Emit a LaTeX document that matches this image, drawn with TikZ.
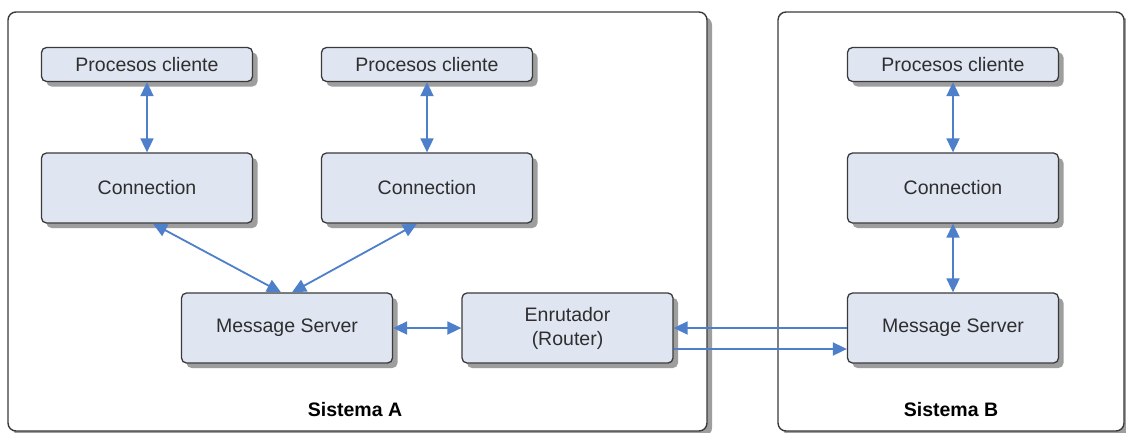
\documentclass[tikz,border=0pt]{standalone}
\usepackage{fontspec}
\setmainfont{Liberation Sans}
\usetikzlibrary{arrows.meta,shadows,calc}
\definecolor{boxfill}{HTML}{DFE6F2}
\definecolor{boxline}{HTML}{3A3A3A}
\definecolor{linkblue}{HTML}{4D7FCB}
\definecolor{txt}{HTML}{2E2E2E}
\tikzset{
  shade gray/.style={general shadow={fill=black!38, shadow xshift=5pt, shadow yshift=-5pt}},
  sysbox/.style={draw=boxline, line width=1.4pt, fill=white, rounded corners=8pt, shade gray},
  blockbox/.style={draw=boxline, line width=1.3pt, fill=boxfill, rounded corners=5pt,
    minimum width=211pt, minimum height=70pt, inner sep=0pt, align=center,
    text=txt, font=\fontsize{19.5}{24}\selectfont, shade gray},
  procbox/.style={blockbox, minimum height=34pt},
  link/.style={draw=linkblue, line width=1.8pt,
    {Triangle[length=14pt,width=13pt]}-{Triangle[length=14pt,width=13pt]}},
  onelink/.style={draw=linkblue, line width=1.8pt, -{Triangle[length=14pt,width=13pt]}},
  syslabel/.style={font=\bfseries\fontsize{19.5}{24}\selectfont, text=black}
}
\begin{document}
\begin{tikzpicture}[x=1pt,y=-1pt]
\useasboundingbox (0,0) rectangle (1126,432);
% system frames
\draw[sysbox] (8,12) rectangle (707,431);
\draw[sysbox] (778,12) rectangle (1124,431);
\node[syslabel] (sa) at (355,410) {Sistema A};
\node[syslabel] (sb) at (951,410) {Sistema B};
% system A
\node[procbox] (pc1) at (147,64.5) {Procesos cliente};
\node[blockbox] (c1) at (147,188) {Connection};
\node[procbox] (pc2) at (427,64.5) {Procesos cliente};
\node[blockbox] (c2) at (427,188) {Connection};
\node[blockbox] (ms) at (287,328) {Message Server};
\node[blockbox] (rt) at (567.5,328) {Enrutador\\(Router)};
% system B
\node[procbox] (pcb) at (953,64.5) {Procesos cliente};
\node[blockbox] (cb) at (953,188) {Connection};
\node[blockbox] (msb) at (953,328) {Message Server};
% connectors
\draw[link] (pc1) -- (c1);
\draw[link] (pc2) -- (c2);
\draw[link] ([xshift=6pt]c1.south) -- ([xshift=-6pt]ms.north);
\draw[link] ([xshift=-10pt]c2.south) -- ([xshift=5pt]ms.north);
\draw[link] (ms) -- (rt);
\draw[link] (pcb) -- (cb);
\draw[link] (cb) -- (msb);
\draw[onelink] (msb.west) -- (rt.east);
\draw[onelink] ([yshift=-21pt]rt.east) -- ([yshift=-21pt]msb.west);
\end{tikzpicture}
\end{document}
